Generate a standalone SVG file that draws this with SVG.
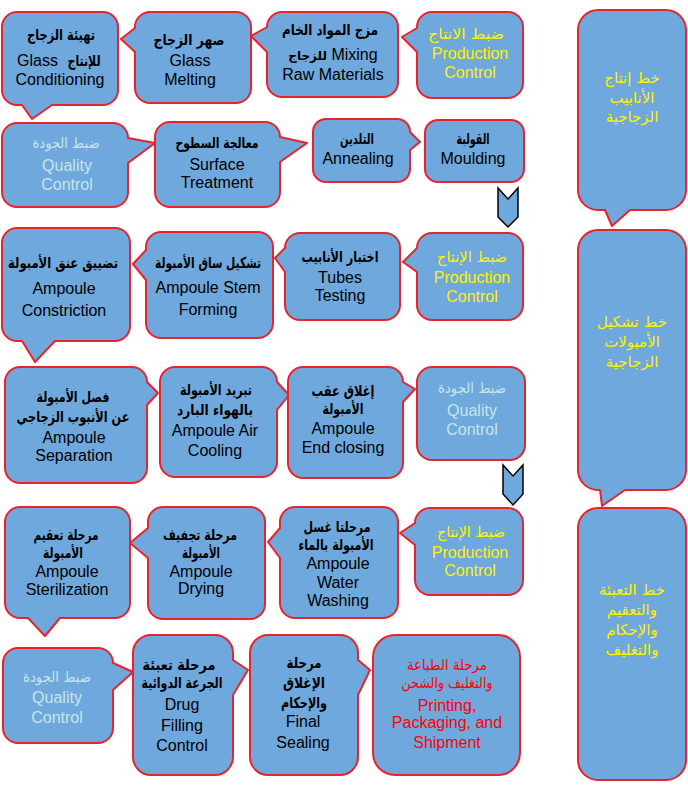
<svg xmlns="http://www.w3.org/2000/svg" width="688" height="794" viewBox="0 0 688 794">
<style>
.b{fill:#6FA8DC;stroke:#E8232A;stroke-width:2;stroke-linejoin:round}
.ch{fill:#6FA8DC;stroke:#000;stroke-width:1.5;stroke-linejoin:miter}
text{text-anchor:middle}
.en{font-family:"Liberation Sans",Arial,sans-serif;font-size:16px}
.ar{font-family:"DejaVu Sans","Noto Sans",sans-serif;font-size:15px}
.ab{font-family:"DejaVu Sans","Noto Sans",sans-serif;font-size:15px;font-weight:bold}
.sm{font-size:12px}
.st{text-anchor:start}
.k{fill:#000}
.y{fill:#FFF200}
.q{fill:#C6E6E8}
.r{fill:#FF0000}
.rc{font-family:"DejaVu Sans","Noto Sans",sans-serif;font-size:15px}
</style>
<rect width="688" height="794" fill="#fff"/>
<g id="connectors">
<polygon class="ch" points="498,188 508,199 518,188 518,217 508,227 498,217"/>
<polygon class="ch" points="503,465 513,476 523,465 523,494 513,505 503,494"/>
</g>
<g id="n1">
<path class="b" d="M17,12 H103 A15,15 0 0 1 118,27 V90 A15,15 0 0 1 103,105 H52 L32,119 L22,105 H17 A15,15 0 0 1 2,90 V27 A15,15 0 0 1 17,12 Z"/>
<text class="ab k" x="61" y="40" textLength="68" lengthAdjust="spacingAndGlyphs">تهيئة الزجاج</text>
<text class="en k st" x="17" y="66">Glass</text>
<text class="ab k" x="84" y="66" textLength="33" lengthAdjust="spacingAndGlyphs">للإنتاج</text>
<text class="en k" x="60" y="85">Conditioning</text>
</g>
<g id="n2">
<path class="b" d="M150,12 H236 A15,15 0 0 1 251,27 V88 A15,15 0 0 1 236,103 H150 A15,15 0 0 1 135,88 V52 L121,39 L135,28 V27 A15,15 0 0 1 150,12 Z"/>
<text class="ab k" x="189" y="45" textLength="71" lengthAdjust="spacingAndGlyphs">صهر الزجاج</text>
<text class="en k" x="190" y="66">Glass</text>
<text class="en k" x="190" y="85">Melting</text>
</g>
<g id="n3">
<path class="b" d="M282,12 H383 A15,15 0 0 1 398,27 V82 A15,15 0 0 1 383,97 H282 A15,15 0 0 1 267,82 V52 L251,36 L267,27 A15,15 0 0 1 282,12 Z"/>
<text class="ab k" x="330" y="35" textLength="96" lengthAdjust="spacingAndGlyphs">مزج المواد الخام</text>
<text class="k" x="333" y="60"><tspan class="ab sm">للزجاج</tspan><tspan class="en"> Mixing</tspan></text>
<text class="en k" x="333" y="80">Raw Materials</text>
</g>
<g id="n4">
<path class="b" d="M432,12 H508 A15,15 0 0 1 523,27 V83 A15,15 0 0 1 508,98 H432 A15,15 0 0 1 417,83 V52 L402,37 L417,28 V27 A15,15 0 0 1 432,12 Z"/>
<text class="ar y" x="466" y="39" textLength="76" lengthAdjust="spacingAndGlyphs">ضبط الانتاج</text>
<text class="en y" x="470" y="59">Production</text>
<text class="en y" x="470" y="78">Control</text>
</g>
<g id="n5">
<path class="b" d="M17,123 H113 A15,15 0 0 1 128,138 L155,143 L128,163 V192 A15,15 0 0 1 113,207 H17 A15,15 0 0 1 2,192 V138 A15,15 0 0 1 17,123 Z"/>
<text class="ar q" x="66" y="148" textLength="67" lengthAdjust="spacingAndGlyphs">ضبط الجودة</text>
<text class="en q" x="67" y="171">Quality</text>
<text class="en q" x="67" y="190">Control</text>
</g>
<g id="n6">
<path class="b" d="M170,122 H265 A15,15 0 0 1 280,137 L307,143 L280,162 V192 A15,15 0 0 1 265,207 H170 A15,15 0 0 1 155,192 V137 A15,15 0 0 1 170,122 Z"/>
<text class="ab k" x="217" y="148" textLength="83" lengthAdjust="spacingAndGlyphs">معالجة السطوح</text>
<text class="en k" x="217" y="170">Surface</text>
<text class="en k" x="217" y="188">Treatment</text>
</g>
<g id="n7">
<path class="b" d="M326,119 H397 A13,13 0 0 1 410,132 L420,142 L410,150 V169 A13,13 0 0 1 397,182 H326 A13,13 0 0 1 313,169 V132 A13,13 0 0 1 326,119 Z"/>
<text class="ab k" x="357" y="144" textLength="34" lengthAdjust="spacingAndGlyphs">التلدين</text>
<text class="en k" x="358" y="164">Annealing</text>
</g>
<g id="n8">
<rect class="b" x="425" y="120" width="99" height="62" rx="13"/>
<text class="ab k" x="473" y="144" textLength="33" lengthAdjust="spacingAndGlyphs">القولبة</text>
<text class="en k" x="473" y="164">Moulding</text>
</g>
<g id="n9">
<path class="b" d="M17,228 H115 A15,15 0 0 1 130,243 V326 A15,15 0 0 1 115,341 H55 L35,362 L22,341 H17 A15,15 0 0 1 2,326 V243 A15,15 0 0 1 17,228 Z"/>
<text class="ab k" x="63" y="268" textLength="110" lengthAdjust="spacingAndGlyphs">تضييق عنق الأمبولة</text>
<text class="en k" x="64" y="294">Ampoule</text>
<text class="en k" x="64" y="316">Constriction</text>
</g>
<g id="n10">
<path class="b" d="M161,232 H258 A15,15 0 0 1 273,247 V323 A15,15 0 0 1 258,338 H161 A15,15 0 0 1 146,323 V280 L133,264 L146,250 V247 A15,15 0 0 1 161,232 Z"/>
<text class="ab k" x="208" y="268" textLength="106" lengthAdjust="spacingAndGlyphs">تشكيل ساق الأمبولة</text>
<text class="en k" x="208" y="293">Ampoule Stem</text>
<text class="en k" x="208" y="315">Forming</text>
</g>
<g id="n11">
<path class="b" d="M300,233 H385 A15,15 0 0 1 400,248 V305 A15,15 0 0 1 385,320 H300 A15,15 0 0 1 285,305 V272 L275,258 L285,248 A15,15 0 0 1 300,233 Z"/>
<text class="ab k" x="340" y="262" textLength="77" lengthAdjust="spacingAndGlyphs">اختبار الأنابيب</text>
<text class="en k" x="340" y="283">Tubes</text>
<text class="en k" x="340" y="301">Testing</text>
</g>
<g id="n12">
<path class="b" d="M432,233 H508 A15,15 0 0 1 523,248 V305 A15,15 0 0 1 508,320 H432 A15,15 0 0 1 417,305 V272 L403,262 L417,248 A15,15 0 0 1 432,233 Z"/>
<text class="ar y" x="472" y="262" textLength="70" lengthAdjust="spacingAndGlyphs">ضبط الإنتاج</text>
<text class="en y" x="472" y="283">Production</text>
<text class="en y" x="472" y="302">Control</text>
</g>
<g id="n13">
<path class="b" d="M20,367 H132 A15,15 0 0 1 147,382 L158,393 L147,405 V468 A15,15 0 0 1 132,483 H20 A15,15 0 0 1 5,468 V382 A15,15 0 0 1 20,367 Z"/>
<text class="ab k" x="73" y="402" textLength="73" lengthAdjust="spacingAndGlyphs">فصل الأمبولة</text>
<text class="ab k" x="73" y="422" textLength="113" lengthAdjust="spacingAndGlyphs">عن الأنبوب الزجاجي</text>
<text class="en k" x="74" y="443">Ampoule</text>
<text class="en k" x="74" y="461">Separation</text>
</g>
<g id="n14">
<path class="b" d="M175,367 H262 A15,15 0 0 1 277,382 L289,395 L277,410 V462 A15,15 0 0 1 262,477 H175 A15,15 0 0 1 160,462 V382 A15,15 0 0 1 175,367 Z"/>
<text class="ab k" x="216" y="395" textLength="72" lengthAdjust="spacingAndGlyphs">تبريد الأمبولة</text>
<text class="ab k" x="215" y="415" textLength="76" lengthAdjust="spacingAndGlyphs">بالهواء البارد</text>
<text class="en k" x="215" y="436">Ampoule Air</text>
<text class="en k" x="215" y="456">Cooling</text>
</g>
<g id="n15">
<path class="b" d="M303,367 H388 A15,15 0 0 1 403,382 L415,389 L403,402 V463 A15,15 0 0 1 388,478 H303 A15,15 0 0 1 288,463 V382 A15,15 0 0 1 303,367 Z"/>
<text class="ab k" x="343" y="396" textLength="63" lengthAdjust="spacingAndGlyphs">إغلاق عقب</text>
<text class="ab k" x="343" y="414" textLength="41" lengthAdjust="spacingAndGlyphs">الأمبولة</text>
<text class="en k" x="343" y="434">Ampoule</text>
<text class="en k" x="343" y="453">End closing</text>
</g>
<g id="n16">
<rect class="b" x="417" y="367" width="108" height="93" rx="15"/>
<text class="ar q" x="472" y="393" textLength="68" lengthAdjust="spacingAndGlyphs">ضبط الجودة</text>
<text class="en q" x="472" y="416">Quality</text>
<text class="en q" x="472" y="435">Control</text>
</g>
<g id="n17">
<path class="b" d="M20,507 H115 A15,15 0 0 1 130,522 V603 A15,15 0 0 1 115,618 H60 L45,636 L28,618 H20 A15,15 0 0 1 5,603 V522 A15,15 0 0 1 20,507 Z"/>
<text class="ab k" x="66" y="540" textLength="65" lengthAdjust="spacingAndGlyphs">مرحلة تعقيم</text>
<text class="ab k" x="63" y="558" textLength="40" lengthAdjust="spacingAndGlyphs">الأمبولة</text>
<text class="en k" x="67" y="577">Ampoule</text>
<text class="en k" x="67" y="595">Sterilization</text>
</g>
<g id="n18">
<path class="b" d="M163,507 H250 A15,15 0 0 1 265,522 V604 A15,15 0 0 1 250,619 H163 A15,15 0 0 1 148,604 V558 L130,543 L148,528 V522 A15,15 0 0 1 163,507 Z"/>
<text class="ab k" x="200" y="540" textLength="74" lengthAdjust="spacingAndGlyphs">مرحلة تجفيف</text>
<text class="ab k" x="201" y="558" textLength="38" lengthAdjust="spacingAndGlyphs">الأمبولة</text>
<text class="en k" x="201" y="577">Ampoule</text>
<text class="en k" x="201" y="594">Drying</text>
</g>
<g id="n19">
<path class="b" d="M295,507 H383 A15,15 0 0 1 398,522 V603 A15,15 0 0 1 383,618 H295 A15,15 0 0 1 280,603 V558 L268,542 L280,528 V522 A15,15 0 0 1 295,507 Z"/>
<text class="ab k" x="337" y="532" textLength="67" lengthAdjust="spacingAndGlyphs">مرحلتا غسل</text>
<text class="ab k" x="336" y="550" textLength="75" lengthAdjust="spacingAndGlyphs">الأمبولة بالماء</text>
<text class="en k" x="338" y="569">Ampoule</text>
<text class="en k" x="338" y="588">Water</text>
<text class="en k" x="338" y="606">Washing</text>
</g>
<g id="n20">
<path class="b" d="M430,508 H508 A15,15 0 0 1 523,523 V580 A15,15 0 0 1 508,595 H430 A15,15 0 0 1 415,580 V545 L400,533 L415,523 A15,15 0 0 1 430,508 Z"/>
<text class="ar y" x="471" y="537" textLength="68" lengthAdjust="spacingAndGlyphs">ضبط الإنتاج</text>
<text class="en y" x="470" y="558">Production</text>
<text class="en y" x="470" y="576">Control</text>
</g>
<g id="n21">
<path class="b" d="M18,648 H98 A15,15 0 0 1 113,663 L133,672 L113,690 V728 A15,15 0 0 1 98,743 H18 A15,15 0 0 1 3,728 V663 A15,15 0 0 1 18,648 Z"/>
<text class="ar q" x="57" y="682" textLength="68" lengthAdjust="spacingAndGlyphs">ضبط الجودة</text>
<text class="en q" x="57" y="703">Quality</text>
<text class="en q" x="57" y="723">Control</text>
</g>
<g id="n22">
<path class="b" d="M151,635 H215 A18,18 0 0 1 233,653 V660 L248,670 L233,695 V757 A18,18 0 0 1 215,775 H151 A18,18 0 0 1 133,757 V653 A18,18 0 0 1 151,635 Z"/>
<text class="ab k" x="179" y="670" textLength="73" lengthAdjust="spacingAndGlyphs">مرحلة تعبئة</text>
<text class="ab k" x="182" y="688" textLength="81" lengthAdjust="spacingAndGlyphs">الجرعة الدوائية</text>
<text class="en k" x="182" y="710">Drug</text>
<text class="en k" x="182" y="731">Filling</text>
<text class="en k" x="182" y="751">Control</text>
</g>
<g id="n23">
<path class="b" d="M268,635 H340 A18,18 0 0 1 358,653 V660 L370,670 L358,695 V757 A18,18 0 0 1 340,775 H268 A18,18 0 0 1 250,757 V653 A18,18 0 0 1 268,635 Z"/>
<text class="ab k" x="304" y="668" textLength="35" lengthAdjust="spacingAndGlyphs">مرحلة</text>
<text class="ab k" x="304" y="688" textLength="42" lengthAdjust="spacingAndGlyphs">الإغلاق</text>
<text class="ab k" x="304" y="708" textLength="46" lengthAdjust="spacingAndGlyphs">والإحكام</text>
<text class="en k" x="303" y="727">Final</text>
<text class="en k" x="303" y="748">Sealing</text>
</g>
<g id="n24">
<rect class="b" x="373" y="635" width="147" height="140" rx="22"/>
<text class="ar r" x="447" y="670" textLength="80" lengthAdjust="spacingAndGlyphs">مرحلة الطباعة</text>
<text class="ar r" x="447" y="688" textLength="91" lengthAdjust="spacingAndGlyphs">والتغليف والشحن</text>
<text class="en r" x="447" y="711">Printing,</text>
<text class="en r" x="447" y="728">Packaging, and</text>
<text class="en r" x="447" y="748">Shipment</text>
</g>
<g id="n25">
<path class="b" d="M598,10 H666 A20,20 0 0 1 686,30 V190 A20,20 0 0 1 666,210 H630 L612,226 L605,210 H598 A20,20 0 0 1 578,190 V30 A20,20 0 0 1 598,10 Z"/>
<text class="rc y" x="632" y="83">خط إنتاج</text>
<text class="rc y" x="632" y="103">الأنابيب</text>
<text class="rc y" x="632" y="122">الزجاجية</text>
</g>
<g id="n26">
<path class="b" d="M598,230 H666 A20,20 0 0 1 686,250 V470 A20,20 0 0 1 666,490 H625 L602,506 L600,490 H598 A20,20 0 0 1 578,470 V250 A20,20 0 0 1 598,230 Z"/>
<text class="rc y" x="632" y="327">خط تشكيل</text>
<text class="rc y" x="632" y="347">الأمبولات</text>
<text class="rc y" x="632" y="367">الزجاجية</text>
</g>
<g id="n27">
<rect class="b" x="578" y="508" width="108" height="272" rx="20"/>
<text class="rc y" x="632" y="595">خط التعبئة</text>
<text class="rc y" x="632" y="615">والتعقيم</text>
<text class="rc y" x="632" y="635">والإحكام</text>
<text class="rc y" x="632" y="655">والتغليف</text>
</g>
</svg>
